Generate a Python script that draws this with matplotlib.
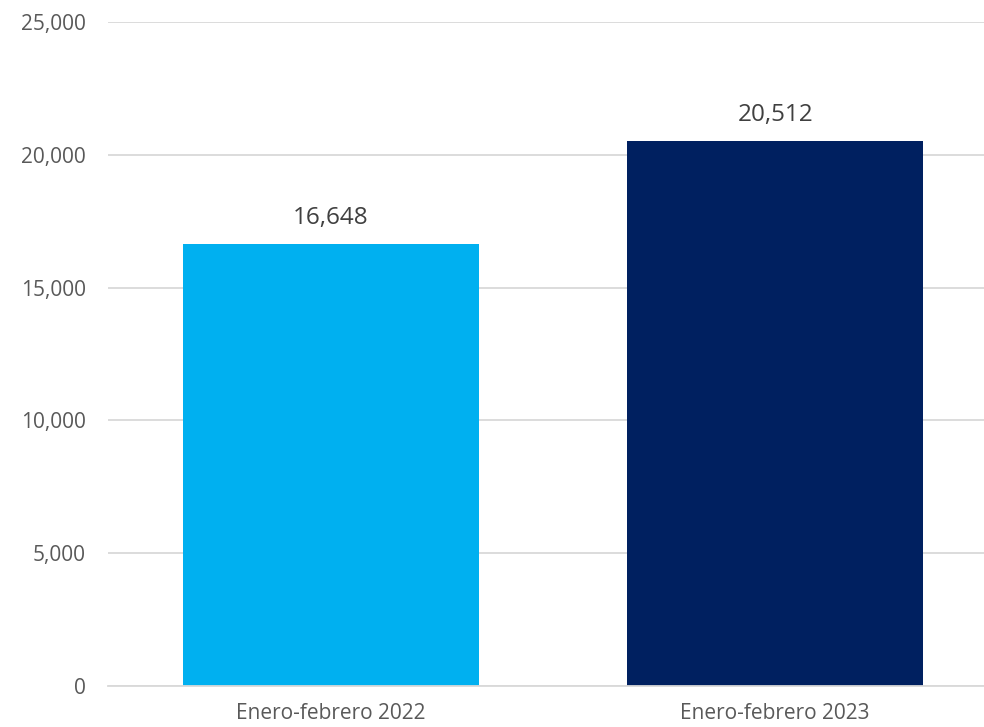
import matplotlib.pyplot as plt
import numpy as np

categories = ["Enero-febrero 2022", "Enero-febrero 2023"]
values = [16648, 20512]
bar_colors = ["#00B0F0", "#002060"]
y_ticks = [0, 5000, 10000, 15000, 20000, 25000]

plt.rcParams["font.family"] = ["Open Sans", "DejaVu Sans"]

fig = plt.figure(figsize=(9.84, 7.27), dpi=100)
ax = fig.add_axes([108 / 984, 41 / 727, 876 / 984, 664 / 727])

x = np.arange(len(categories))
ax.bar(x, values, width=0.667, color=bar_colors, zorder=2)

for xi, v in zip(x, values):
    ax.annotate(f"{v:,}", (xi, v), xytext=(0, 10), textcoords="offset points",
                ha="center", va="bottom", fontsize=17.5, color="#404040")

ax.set_xlim(-0.502, 1.47)
ax.set_ylim(0, 25000)
ax.set_yticks(y_ticks)
ax.set_yticklabels([f"{t:,}" for t in y_ticks])
ax.set_xticks(x)
ax.set_xticklabels(categories)

ax.tick_params(axis="y", length=0, pad=16, labelsize=15, labelcolor="#595959")
ax.tick_params(axis="x", length=0, pad=12, labelsize=15, labelcolor="#595959")
ax.grid(axis="y", color="#D9D9D9", linewidth=1.3, zorder=0)
for side in ["top", "right", "left"]:
    ax.spines[side].set_visible(False)
ax.spines["bottom"].set_color("#D9D9D9")
ax.spines["bottom"].set_linewidth(1.3)

fig.savefig("out.png", dpi=100)
